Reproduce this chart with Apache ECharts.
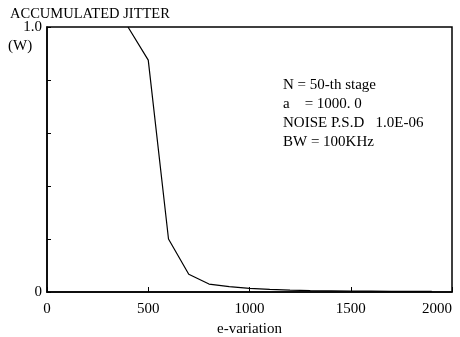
<!DOCTYPE html>
<html>
<head>
<meta charset="utf-8">
<script src="https://cdn.jsdelivr.net/npm/echarts@6/dist/echarts.min.js"></script>
<style>
  html, body { margin: 0; padding: 0; background: #fff; }
  #chart { width: 460px; height: 337px; }
</style>
</head>
<body>
<div id="chart"></div>
<script>
const variation = [400, 500, 600, 700, 800, 900, 1000, 1100, 1200, 1300, 1400, 1500, 1600, 1700, 1800, 1900];
const jitter = [1.0, 0.875, 0.2, 0.067, 0.03, 0.02, 0.014, 0.01, 0.007, 0.005, 0.004, 0.003, 0.003, 0.002, 0.002, 0.002];
const notes = ["N = 50-th stage", "a    = 1000. 0", "NOISE P.S.D   1.0E-06", "BW = 100KHz"];

const chart = echarts.init(document.getElementById("chart"));
const font = "'Liberation Serif', 'DejaVu Serif', serif";

chart.setOption({
  animation: false,
  title: {
    text: "ACCUMULATED JITTER",
    left: 5,
    top: 2,
    textStyle: { fontFamily: font, fontSize: 14.5, fontWeight: "normal", color: "#000" },
  },
  grid: {
    left: 47, right: 8, top: 27, bottom: 45,
    outerBoundsMode: "none",
    containLabel: false,
    show: true, borderColor: "#000", borderWidth: 1.5,
  },
  xAxis: {
    type: "value",
    min: 0, max: 2000, interval: 500,
    name: "e-variation",
    nameLocation: "middle",
    nameGap: 29,
    nameTextStyle: { fontFamily: font, fontSize: 15, color: "#000" },
    axisLine: { lineStyle: { color: "#000", width: 1.5 } },
    axisTick: { inside: true, length: 5, lineStyle: { color: "#000" } },
    axisLabel: {
      fontFamily: font, fontSize: 15, color: "#000", margin: 10,
      alignMaxLabel: "right",
      formatter: (v) => String(v),
    },
    splitLine: { show: false },
  },
  yAxis: {
    type: "value",
    min: 0, max: 1, interval: 0.2,
    axisLine: { show: true, lineStyle: { color: "#000", width: 1.5 } },
    axisTick: { show: true, inside: true, length: 4, lineStyle: { color: "#000" } },
    axisLabel: {
      fontFamily: font, fontSize: 15, color: "#000", margin: 5,
      formatter: (v) => (v === 0 ? "0" : v === 1 ? "1.0" : ""),
    },
    splitLine: { show: false },
  },
  graphic: [
    {
      type: "text", left: 8, top: 39,
      style: { text: "(W)", font: "15px " + font, fill: "#000" },
    },
    {
      type: "text", left: 283, top: 76,
      style: { text: notes.join("\n"), font: "15px " + font, lineHeight: 19, fill: "#000" },
    },
  ],
  series: [
    {
      type: "line",
      data: variation.map((x, i) => [x, jitter[i]]),
      symbol: "none",
      lineStyle: { color: "#000", width: 1.2 },
    },
  ],
});
</script>
</body>
</html>
